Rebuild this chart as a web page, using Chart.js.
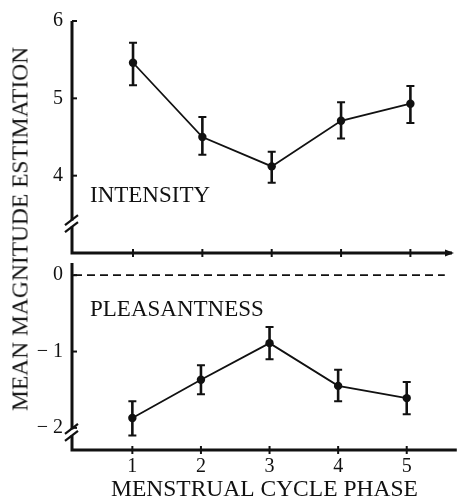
<!DOCTYPE html>
<html>
<head>
<meta charset="utf-8">
<script src="https://cdn.jsdelivr.net/npm/chart.js@4.4.0/dist/chart.umd.min.js"></script>
<style>
  html, body { margin: 0; padding: 0; background: #fff; }
  #wrap { position: relative; width: 461px; height: 502px; overflow: hidden; }
  #topBox { position: absolute; left: 0; top: 0; width: 461px; height: 280px; }
  #botBox { position: absolute; left: 0; top: 230px; width: 461px; height: 272px; }
  #yTitle {
    position: absolute; left: 19.5px; top: 229px;
    transform: translate(-50%, -50%) rotate(-90deg);
    font: 23.5px "Liberation Serif", serif; color: #111; white-space: nowrap;
  }
</style>
</head>
<body>
<div id="wrap">
  <div id="topBox"><canvas id="intensityChart"></canvas></div>
  <div id="botBox"><canvas id="pleasantChart"></canvas></div>
  <div id="yTitle">MEAN MAGNITUDE ESTIMATION</div>
</div>
<script>
// Data
const phases = [1, 2, 3, 4, 5];

const intensityMean = [5.46, 4.50, 4.12, 4.71, 4.93];
const intensityLow  = [5.17, 4.27, 3.91, 4.48, 4.68];
const intensityHigh = [5.72, 4.76, 4.31, 4.95, 5.16];

const pleasantMean = [-1.87, -1.37, -0.89, -1.45, -1.61];
const pleasantLow  = [-2.10, -1.56, -1.10, -1.65, -1.82];
const pleasantHigh = [-1.65, -1.18, -0.68, -1.24, -1.40];

const intensityTicks = [4, 5, 6];
const pleasantTicks = [0, -1, -2];

const INK = '#111';
const SERIF = "'Liberation Serif', serif";

// Axes, ticks, breaks, error bars and panel labels
const panelDecor = {
    id: 'panelDecor',
    afterDatasetsDraw(chart, args, opts) {
        const ctx = chart.ctx;
        const area = chart.chartArea;
        const xs = chart.scales.x;
        const ys = chart.scales.y;
        ctx.save();
        ctx.strokeStyle = INK;
        ctx.fillStyle = INK;
        ctx.lineCap = 'butt';

        // axis lines
        ctx.lineWidth = 3;
        ctx.beginPath();
        ctx.moveTo(area.left, area.top);
        ctx.lineTo(area.left, area.bottom);
        ctx.lineTo(area.right, area.bottom);
        ctx.stroke();

        // y ticks (inward)
        ctx.lineWidth = 2;
        opts.yTicks.forEach(v => {
            const y = ys.getPixelForValue(v);
            ctx.beginPath();
            ctx.moveTo(area.left, y);
            ctx.lineTo(area.left + 5, y);
            ctx.stroke();
        });

        // x ticks (crossing)
        phases.forEach(p => {
            const x = xs.getPixelForValue(p);
            ctx.beginPath();
            ctx.moveTo(x, area.bottom - 4);
            ctx.lineTo(x, area.bottom + 4);
            ctx.stroke();
        });

        // axis break
        const by = ys.getPixelForValue(opts.breakAt);
        ctx.fillStyle = '#fff';
        ctx.fillRect(area.left - 3, by - 3, 6, 6);
        ctx.strokeStyle = INK;
        ctx.lineWidth = 2.2;
        [-3.5, 3.5].forEach(d => {
            ctx.beginPath();
            ctx.moveTo(area.left - 7, by + d + 5);
            ctx.lineTo(area.left + 6, by + d - 5);
            ctx.stroke();
        });

        // arrow head at the right end
        if (opts.arrow) {
            ctx.fillStyle = INK;
            ctx.beginPath();
            ctx.moveTo(area.right + 2, area.bottom);
            ctx.lineTo(area.right - 7, area.bottom - 3.5);
            ctx.lineTo(area.right - 7, area.bottom + 3.5);
            ctx.closePath();
            ctx.fill();
        }

        // dashed zero line
        if (opts.zeroLine) {
            const y0 = ys.getPixelForValue(0);
            ctx.lineWidth = 1.8;
            ctx.setLineDash([8, 5]);
            ctx.beginPath();
            ctx.moveTo(area.left + 2, y0);
            ctx.lineTo(area.right - 12, y0);
            ctx.stroke();
            ctx.setLineDash([]);
        }

        // error bars
        opts.low.forEach((lo, i) => {
            const x = xs.getPixelForValue(phases[i]);
            const yl = ys.getPixelForValue(lo);
            const yh = ys.getPixelForValue(opts.high[i]);
            ctx.lineWidth = 2.6;
            ctx.beginPath();
            ctx.moveTo(x, yl);
            ctx.lineTo(x, yh);
            ctx.stroke();
            ctx.lineWidth = 2;
            ctx.beginPath();
            ctx.moveTo(x - 4, yl); ctx.lineTo(x + 4, yl);
            ctx.moveTo(x - 4, yh); ctx.lineTo(x + 4, yh);
            ctx.stroke();
        });

        // panel label
        ctx.fillStyle = INK;
        ctx.font = '23px ' + SERIF;
        ctx.textBaseline = 'alphabetic';
        ctx.textAlign = 'left';
        ctx.fillText(opts.label, area.left + 18, area.top + opts.labelDy);
        ctx.restore();
    }
};

function seriesPoints(values) {
    return phases.map((p, i) => ({ x: p, y: values[i] }));
}

function makePanel(canvasId, cfg) {
    return new Chart(document.getElementById(canvasId), {
        type: 'line',
        data: {
            datasets: [{
                data: seriesPoints(cfg.mean),
                borderColor: INK,
                borderWidth: 1.8,
                pointRadius: 4.2,
                pointBackgroundColor: INK,
                pointBorderWidth: 0,
                tension: 0
            }]
        },
        plugins: [panelDecor],
        options: {
            responsive: true,
            maintainAspectRatio: false,
            animation: false,
            events: [],
            layout: { padding: cfg.padding },
            plugins: {
                legend: { display: false },
                tooltip: { enabled: false },
                panelDecor: {
                    yTicks: cfg.yTicks,
                    low: cfg.low,
                    high: cfg.high,
                    breakAt: cfg.breakAt,
                    arrow: cfg.arrow,
                    zeroLine: cfg.zeroLine,
                    label: cfg.label,
                    labelDy: cfg.labelDy
                }
            },
            scales: {
                x: {
                    type: 'linear',
                    min: 0.12,
                    max: cfg.xMax,
                    grid: { display: false, drawTicks: false },
                    border: { display: false },
                    afterBuildTicks: s => { s.ticks = phases.map(v => ({ value: v })); },
                    afterFit: s => { s.height = cfg.xHeight; },
                    ticks: {
                        display: cfg.showX,
                        color: INK,
                        padding: 5,
                        font: { family: SERIF, size: 20 }
                    },
                    title: {
                        display: cfg.showX,
                        text: 'MENSTRUAL CYCLE PHASE',
                        color: INK,
                        padding: { top: 0, bottom: 0 },
                        font: { family: SERIF, size: 23.5, lineHeight: 1 }
                    }
                },
                y: {
                    min: cfg.yMin,
                    max: cfg.yMax,
                    grid: { display: false, drawTicks: false },
                    border: { display: false },
                    afterBuildTicks: s => { s.ticks = cfg.yTicks.map(v => ({ value: v })); },
                    afterFit: s => { s.width = 72; },
                    ticks: {
                        color: INK,
                        padding: 9,
                        font: { family: SERIF, size: 20 },
                        callback: v => v < 0 ? '\u2212 ' + Math.abs(v) : String(v)
                    }
                }
            }
        }
    });
}

makePanel('intensityChart', {
    mean: intensityMean, low: intensityLow, high: intensityHigh,
    yTicks: intensityTicks, yMin: 3.0, yMax: 6,
    xMax: 5.60, xHeight: 0, showX: false,
    padding: { top: 21, right: 9, bottom: 27, left: 0 },
    breakAt: 3.38, arrow: true, zeroLine: false,
    label: 'INTENSITY', labelDy: 181
});

makePanel('pleasantChart', {
    mean: pleasantMean, low: pleasantLow, high: pleasantHigh,
    yTicks: pleasantTicks, yMin: -2.29, yMax: 0.16,
    xMax: 5.73, xHeight: 52, showX: true,
    padding: { top: 33, right: 0, bottom: 0, left: 0 },
    breakAt: -2.06, arrow: false, zeroLine: true,
    label: 'PLEASANTNESS', labelDy: 53
});
</script>
</body>
</html>
